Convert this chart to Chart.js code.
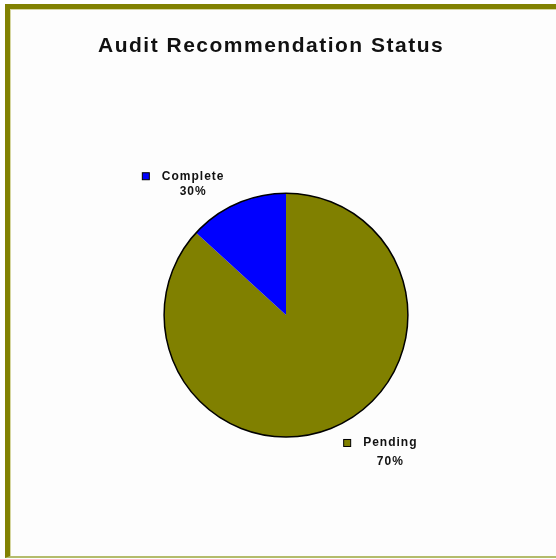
<!DOCTYPE html>
<html>
<head>
<meta charset="utf-8">
<script src="https://cdn.jsdelivr.net/npm/chart.js@4.4.0/dist/chart.umd.min.js"></script>
<style>
  html, body { margin: 0; padding: 0; background: #fdfdfd; }
  #frame {
    position: absolute; left: 5px; top: 4px; width: 546px; height: 547px;
    border-left: 5px solid #808000; border-top: 5px solid #808000;
    border-bottom: 2px solid #b4bc6c;
    box-shadow: inset 1px 1px 0 #d6d6a0;
  }
  #wrap { position: absolute; left: 0; top: 0; width: 556px; height: 559px; }
</style>
</head>
<body>
<div id="frame"></div>
<div id="wrap"><canvas id="statusChart" width="556" height="559"></canvas></div>
<script>
// data (slice sizes as drawn, label text as printed)
const categories = ['Pending', 'Complete'];
const sliceValues = [86.8, 13.2];
const percentLabels = ['70%', '30%'];
const sliceColors = ['#808000', '#0000ff'];

// labels next to the slices: small square, name, percent below
const sliceLabels = {
  id: 'sliceLabels',
  afterDatasetsDraw(chart, args, opts) {
    const ctx = chart.ctx;
    const arcs = chart.getDatasetMeta(0).data;
    ctx.save();
    ctx.font = 'bold 12px "Liberation Sans", Arial, sans-serif';
    ctx.letterSpacing = '1px';
    ctx.textBaseline = 'middle';

    // outer black edge of the pie
    const a0 = arcs[0];
    ctx.beginPath();
    ctx.arc(a0.x, a0.y, a0.outerRadius, 0, Math.PI * 2);
    ctx.lineWidth = 1.5;
    ctx.strokeStyle = '#000';
    ctx.stroke();

    arcs.forEach((arc, i) => {
      const mid = (arc.startAngle + arc.endAngle) / 2;
      const r = arc.outerRadius + 20;
      const off = opts.offsets[i];
      const mx = arc.x + Math.cos(mid) * r + off.dx;
      const my = arc.y + Math.sin(mid) * r + off.dy;

      ctx.fillStyle = sliceColors[i];
      ctx.fillRect(mx - 3.5, my - 3.5, 7, 7);
      ctx.lineWidth = 1;
      ctx.strokeStyle = '#000';
      ctx.strokeRect(mx - 3.5, my - 3.5, 7, 7);

      ctx.fillStyle = '#111';
      ctx.textAlign = 'left';
      const nameX = mx + 16;
      ctx.fillText(categories[i], nameX, my);
      const w = ctx.measureText(categories[i]).width;
      ctx.textAlign = 'center';
      ctx.fillText(percentLabels[i], nameX + w / 2, my + opts.percentGap[i]);
    });
    ctx.restore();
  }
};

// wider letter spacing for the title
const titleSpacing = {
  id: 'titleSpacing',
  beforeDraw(chart) { chart.ctx.letterSpacing = '1.5px'; },
  afterDraw(chart) { chart.ctx.letterSpacing = '0px'; }
};

new Chart(document.getElementById('statusChart'), {
  type: 'pie',
  data: {
    labels: categories,
    datasets: [{
      data: sliceValues,
      backgroundColor: sliceColors,
      borderWidth: 0,
      hoverOffset: 0
    }]
  },
  options: {
    responsive: false,
    animation: false,
    events: [],
    layout: { padding: { left: 98, right: 82, top: 0, bottom: 122 } },
    plugins: {
      legend: { display: false },
      tooltip: { enabled: false },
      title: {
        display: true,
        text: 'Audit Recommendation Status',
        align: 'start',
        color: '#111',
        font: { family: '"Liberation Sans", Arial, sans-serif', size: 21, weight: 'bold' },
        padding: { top: 34, bottom: 134 }
      },
      sliceLabels: {
        offsets: [{ dx: 4, dy: -2 }, { dx: -83, dy: -9 }],
        percentGap: [19, 15]
      }
    }
  },
  plugins: [titleSpacing, sliceLabels]
});
</script>
</body>
</html>
